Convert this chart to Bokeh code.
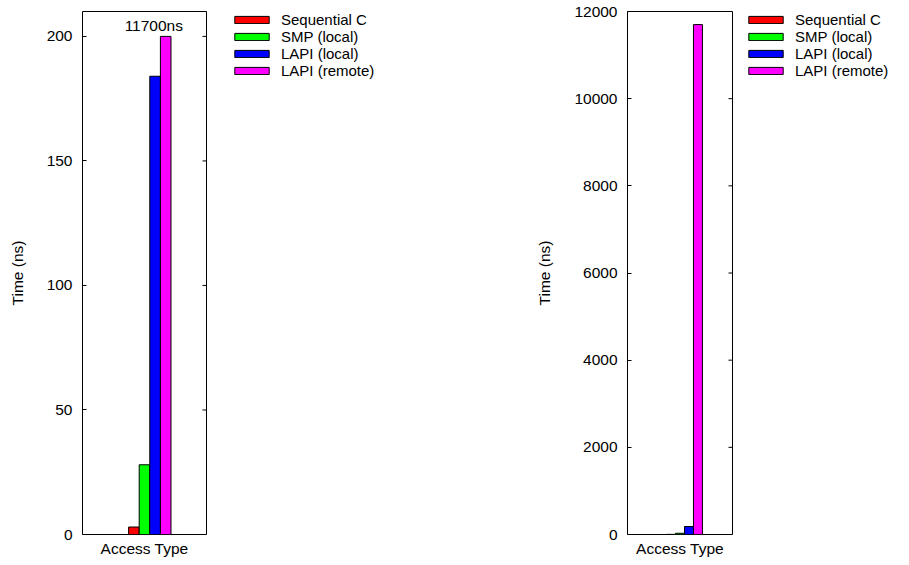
import math
from bokeh.plotting import figure
from bokeh.models import Range1d, FixedTicker, Legend, LegendItem, ColumnDataSource
from bokeh.layouts import row
from bokeh.embed import file_html
from bokeh.resources import INLINE
from bokeh.core.properties import value

# ---- data ----
series = ["Sequential C", "SMP (local)", "LAPI (local)", "LAPI (remote)"]
times_ns = [3, 28, 184, 11700]
colors = ["#ff0000", "#00ff00", "#0000ff", "#ff00ff"]
left_ticks = [0, 50, 100, 150, 200]
left_ymax = 210
left_clip = 200
right_ticks = [0, 2000, 4000, 6000, 8000, 10000, 12000]
right_ymax = 12000
x_label = "Access Type"
y_label = "Time (ns)"

FONT = "Liberation Sans"
FS = "15.5px"
BW = 1 / 6
XR = 0.975
H = 559


def make(width, border_left, frame_w, ymax, ticks, clip, label_standoff):
    p = figure(width=width, height=H, x_range=Range1d(-XR, XR),
               y_range=Range1d(0, ymax), output_backend="svg",
               toolbar_location=None, min_border_left=border_left,
               min_border_right=width - border_left - frame_w,
               min_border_top=11, min_border_bottom=24)
    p.grid.visible = False
    p.outline_line_color = "black"
    p.outline_line_width = 1
    p.background_fill_color = "white"
    p.border_fill_color = "white"

    xa = p.xaxis[0]
    xa.ticker = FixedTicker(ticks=[])
    xa.major_tick_in = 0
    xa.major_tick_out = 0
    xa.minor_tick_line_color = None
    xa.axis_line_color = None
    xa.axis_label = x_label
    xa.axis_label_standoff = 5
    xa.axis_label_text_font = FONT
    xa.axis_label_text_font_size = FS
    xa.axis_label_text_font_style = "normal"
    xa.axis_label_text_color = "black"

    ya = p.yaxis[0]
    ya.ticker = FixedTicker(ticks=ticks)
    ya.major_tick_in = 4
    ya.major_tick_out = 0
    ya.minor_tick_line_color = None
    ya.axis_line_color = None
    ya.major_tick_line_color = "black"
    ya.major_label_standoff = 10
    ya.major_label_text_font = FONT
    ya.major_label_text_font_size = FS
    ya.major_label_text_color = "black"
    ya.axis_label = y_label
    ya.axis_label_standoff = label_standoff
    ya.axis_label_text_font = FONT
    ya.axis_label_text_font_size = FS
    ya.axis_label_text_font_style = "normal"
    ya.axis_label_text_color = "black"

    # mirrored tick marks on the right edge of the frame
    msrc = ColumnDataSource(dict(x=[XR] * len(ticks), y=ticks))
    p.ray(x="x", y="y", length=4, length_units="screen", angle=math.pi,
          source=msrc, line_color="black", line_width=1)

    for i, (v, c) in enumerate(zip(times_ns, colors)):
        xc = (i - 1) * BW
        top = min(v, clip) if clip is not None else v
        src = ColumnDataSource(dict(x=[xc], top=[top]))
        p.vbar(x="x", top="top", bottom=0, width=BW, source=src,
               fill_color=c, line_color="black", line_width=1)
        if clip is not None and v > clip:
            center = sum((k - 1) * BW for k in range(len(series))) / len(series)
            tsrc = ColumnDataSource(dict(x=[center], y=[clip], t=[f"{v}ns"]))
            p.text(x="x", y="y", text="t", source=tsrc, text_align="center",
                   text_baseline="bottom", x_offset=4, y_offset=-2,
                   text_font=value(FONT), text_font_size=value(FS), text_color="black")
    return p


def legend_panel(width, ymax):
    # legend-only proxies of the bars (x is NaN, so nothing is drawn in the panel)
    lf = figure(width=width, height=H, output_backend="svg", toolbar_location=None,
                x_axis_location=None, y_axis_location=None,
                x_range=Range1d(-XR, XR), y_range=Range1d(0, ymax),
                min_border=0, min_border_left=0, min_border_right=0,
                min_border_top=0, min_border_bottom=0)
    lf.grid.visible = False
    lf.outline_line_color = None
    lf.background_fill_color = "white"
    lf.border_fill_color = "white"
    items = []
    for name, v, c in zip(series, times_ns, colors):
        r = lf.vbar(x="x", top="top", bottom=0, width=BW,
                    source=ColumnDataSource(dict(x=[float("nan")], top=[v])),
                    fill_color=c, line_color="black", line_width=1)
        items.append(LegendItem(label=name, renderers=[r]))
    leg = Legend(items=items, location="top_left", orientation="vertical",
                 background_fill_alpha=0, border_line_alpha=0, padding=0, margin=0,
                 spacing=0, label_height=16, glyph_height=9, glyph_width=43,
                 label_standoff=8, label_text_font=FONT, label_text_font_size="15px",
                 label_text_color="black")
    lf.add_layout(leg)
    return lf


p1 = make(230, 82, 124, left_ymax, left_ticks, left_clip, 18)
l1 = legend_panel(224, left_ymax)
p2 = make(290, 173, 105, right_ymax, right_ticks, None, 18)
l2 = legend_panel(149, right_ymax)

layout = row(p1, l1, p2, l2, spacing=0)
open("out.html", "w").write(file_html(layout, INLINE))
